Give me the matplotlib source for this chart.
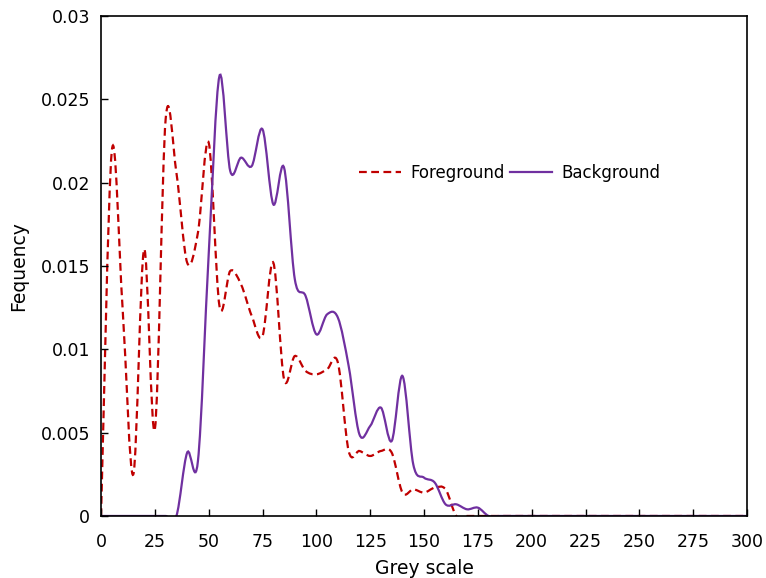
import numpy as np
import matplotlib
matplotlib.use("Agg")
import matplotlib.pyplot as plt
from matplotlib.path import Path
from matplotlib.patches import PathPatch
from matplotlib.lines import Line2D
from matplotlib.ticker import MultipleLocator, FuncFormatter

plt.rcParams['font.family'] = ['DejaVu Sans']

# Grey levels (bins of width 5)
grey = list(range(0, 305, 5))

foreground = [
    0.0, 0.0219, 0.0125, 0.0025, 0.0160, 0.0052, 0.0238, 0.0206, 0.0152, 0.0170,
    0.0224, 0.0126, 0.0147, 0.0139, 0.0120, 0.0108, 0.0152, 0.0082, 0.0096, 0.0087,
    0.0085, 0.0088, 0.0092, 0.0039, 0.0039, 0.0036, 0.0039, 0.0038, 0.0014, 0.0016,
    0.0014, 0.0017, 0.0016, 0.0, 0.0, 0.0, 0.0, 0.0, 0.0, 0.0,
    0.0, 0.0, 0.0, 0.0, 0.0, 0.0, 0.0, 0.0, 0.0, 0.0,
    0.0, 0.0, 0.0, 0.0, 0.0, 0.0, 0.0, 0.0, 0.0, 0.0, 0.0,
]

background = [
    0.0, 0.0, 0.0, 0.0, 0.0, 0.0, 0.0, 0.0, 0.0038, 0.0033,
    0.0157, 0.0264, 0.0207, 0.0215, 0.0210, 0.0232, 0.0187, 0.0209, 0.0142, 0.0132,
    0.0109, 0.0121, 0.0119, 0.0090, 0.0049, 0.0054, 0.0065, 0.0045, 0.0084, 0.0031,
    0.0023, 0.0020, 0.0007, 0.0007, 0.0004, 0.0005, 0.0, 0.0, 0.0, 0.0,
    0.0, 0.0, 0.0, 0.0, 0.0, 0.0, 0.0, 0.0, 0.0, 0.0,
    0.0, 0.0, 0.0, 0.0, 0.0, 0.0, 0.0, 0.0, 0.0, 0.0, 0.0,
]

series_labels = ["Foreground", "Background"]


def smooth_path(xs, ys):
    """Smoothed line through the points as cubic Bezier segments
    (control points at +/- one sixth of the neighbour chord)."""
    p = np.column_stack([xs, ys]).astype(float)
    n = len(p)
    verts = [p[0]]
    codes = [Path.MOVETO]
    for i in range(n - 1):
        p0 = p[i - 1] if i > 0 else p[i]
        p1 = p[i]
        p2 = p[i + 1]
        p3 = p[i + 2] if i + 2 < n else p[i + 1]
        c1 = p1 + (p2 - p0) / 6.0
        c2 = p2 - (p3 - p1) / 6.0
        verts += [c1, c2, p2]
        codes += [Path.CURVE4] * 3
    return Path(np.array(verts), codes)


fig = plt.figure(figsize=(7.66, 5.78), dpi=100)
ax = fig.add_axes([0.1319, 0.1073, 0.8433, 0.8650])

red = "#C00000"
purple = "#7030A0"
dash = (0, (3.5, 2.0))
fg_style = dict(color=red, linewidth=1.6, linestyle=dash)
bg_style = dict(color=purple, linewidth=1.6, linestyle="-")

ax.add_patch(PathPatch(smooth_path(grey, foreground), fill=False,
                       edgecolor=red, linewidth=1.6, linestyle=dash,
                       capstyle="butt"))
ax.add_patch(PathPatch(smooth_path(grey, background), fill=False,
                       edgecolor=purple, linewidth=1.6, linestyle="-"))

ax.set_xlim(0, 300)
ax.set_ylim(0, 0.03)
ax.xaxis.set_major_locator(MultipleLocator(25))
ax.yaxis.set_major_locator(MultipleLocator(0.005))
ax.yaxis.set_major_formatter(FuncFormatter(lambda v, _: f"{v:g}"))
ax.xaxis.set_major_formatter(FuncFormatter(lambda v, _: f"{v:g}"))
ax.tick_params(direction="in", length=5, width=1.0, labelsize=12.5,
               top=False, right=False, colors="black")
ax.tick_params(axis="x", pad=12)
ax.tick_params(axis="y", pad=8)
for s in ax.spines.values():
    s.set_linewidth(1.2)
    s.set_color("black")

ax.set_xlabel("Grey scale", fontsize=13.5, labelpad=6)
ax.set_ylabel("Fequency", fontsize=13.5, labelpad=9)

handles = [Line2D([], [], **fg_style), Line2D([], [], **bg_style)]
ax.legend(handles, series_labels, ncol=2, frameon=False, fontsize=12,
          loc="center", bbox_to_anchor=(0.633, 0.686), handlelength=2.5,
          columnspacing=0.3, handletextpad=0.6)

fig.savefig("out.png", dpi=100)
